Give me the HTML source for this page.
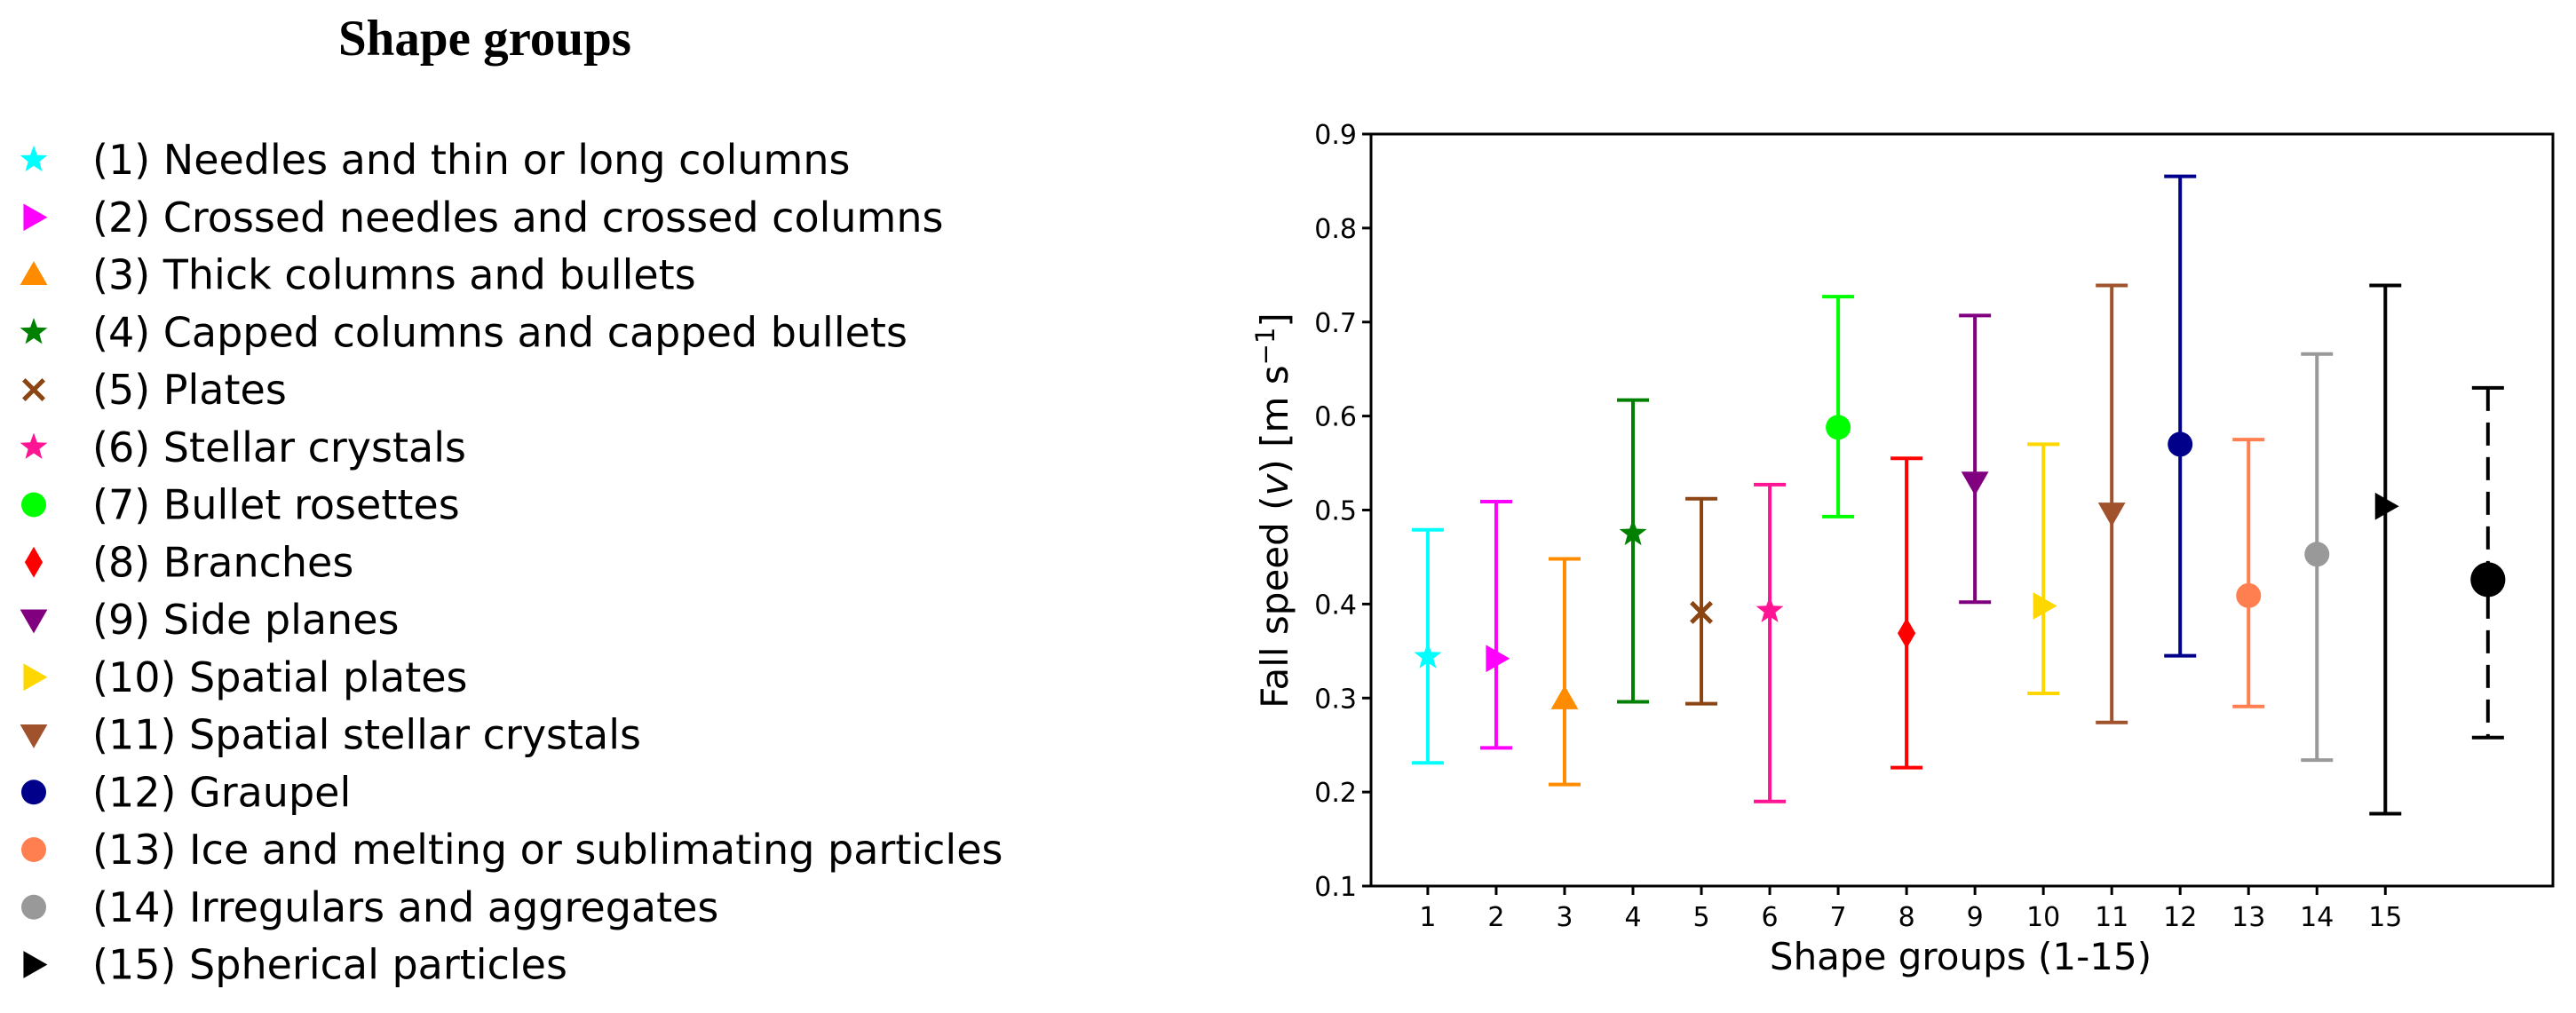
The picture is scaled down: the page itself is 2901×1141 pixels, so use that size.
<!DOCTYPE html>
<html><head><meta charset="utf-8"><style>
body{margin:0;background:#fff;}
svg text{font-family:"DejaVu Sans","Liberation Sans",sans-serif;}
</style></head><body>
<svg id="c" width="2901" height="1136" viewBox="0 0 2901 1136" xmlns="http://www.w3.org/2000/svg">
<text x="546" y="62" text-anchor="middle" style="font-family:'Liberation Serif',serif;font-weight:bold;font-size:57px">Shape groups</text>
<g id="legend"></g>
<g id="plot"></g>
</svg>
<script>
const categories = ["1","2","3","4","5","6","7","8","9","10","11","12","13","14","15","mean"];
const xPositions = [1,2,3,4,5,6,7,8,9,10,11,12,13,14,15,16.5];
const means = [0.344,0.342,0.299,0.475,0.391,0.393,0.588,0.369,0.530,0.398,0.497,0.570,0.409,0.453,0.504,0.426];
const upper = [0.479,0.509,0.448,0.617,0.512,0.527,0.727,0.555,0.707,0.570,0.739,0.855,0.575,0.666,0.739,0.630];
const lower = [0.231,0.247,0.208,0.296,0.294,0.190,0.493,0.226,0.402,0.305,0.274,0.345,0.291,0.234,0.177,0.258];
const yTicks = [0.1,0.2,0.3,0.4,0.5,0.6,0.7,0.8,0.9];
const xTicks = [1,2,3,4,5,6,7,8,9,10,11,12,13,14,15];
const legendLabels = ["(1) Needles and thin or long columns","(2) Crossed needles and crossed columns","(3) Thick columns and bullets","(4) Capped columns and capped bullets","(5) Plates","(6) Stellar crystals","(7) Bullet rosettes","(8) Branches","(9) Side planes","(10) Spatial plates","(11) Spatial stellar crystals","(12) Graupel","(13) Ice and melting or sublimating particles","(14) Irregulars and aggregates","(15) Spherical particles"];
const colors = ["#00ffff","#ff00ff","#ff8c00","#008000","#8b4513","#ff1493","#00ff00","#ff0000","#800080","#ffd700","#a0522d","#00008b","#ff7f50","#999999","#000000","#000000"];
const markers = ["star","tri-right","tri-up","star","x","star","circle","diamond","tri-down","tri-right","tri-down","circle","circle","circle","tri-right","bigcircle"];

const NS="http://www.w3.org/2000/svg";
const L=1544,R=2875,T=151,B=998,XMIN=0.17,XMAX=17.45,YMIN=0.1,YMAX=0.9;
const xs=v=>L+(v-XMIN)/(XMAX-XMIN)*(R-L);
const ys=v=>B-(v-YMIN)/(YMAX-YMIN)*(B-T);
function mk(tag,attrs,parent){const e=document.createElementNS(NS,tag);for(const k in attrs)e.setAttribute(k,attrs[k]);parent.appendChild(e);return e;}
function marker(type,cx,cy,s,col,parent){
  let e;
  if(type==="circle"||type==="bigcircle"){const r=type==="bigcircle"?s*0.7:s*0.5;e=mk('ellipse',{cx:cx,cy:cy,rx:r,ry:r,fill:col},parent);}
  else if(type==="star"){let p=[];for(let i=0;i<10;i++){const a=-Math.PI/2+i*Math.PI/5;const r=i%2?s*0.24:s*0.58;p.push((cx+r*Math.cos(a)).toFixed(1)+","+(cy+r*Math.sin(a)).toFixed(1));}e=mk('polygon',{points:p.join(' '),fill:col},parent);}
  else if(type==="tri-up"){const h=s*0.55;e=mk('polygon',{points:`${cx},${cy-h} ${cx+h},${cy+h*0.75} ${cx-h},${cy+h*0.75}`,fill:col},parent);}
  else if(type==="tri-down"){const h=s*0.55;e=mk('polygon',{points:`${cx},${cy+h} ${cx+h},${cy-h*0.75} ${cx-h},${cy-h*0.75}`,fill:col},parent);}
  else if(type==="tri-right"){const h=s*0.55;e=mk('polygon',{points:`${cx+h},${cy} ${cx-h*0.75},${cy-h} ${cx-h*0.75},${cy+h}`,fill:col},parent);}
  else if(type==="diamond"){e=mk('polygon',{points:`${cx},${cy-s*0.62} ${cx+s*0.36},${cy} ${cx},${cy+s*0.62} ${cx-s*0.36},${cy}`,fill:col},parent);}
  else if(type==="x"){const h=s*0.4;e=mk('path',{d:`M${cx-h},${cy-h}L${cx+h},${cy+h}M${cx-h},${cy+h}L${cx+h},${cy-h}`,stroke:col,'stroke-width':5,fill:'none'},parent);}
  return e;
}
// legend
const lg=document.getElementById('legend');
legendLabels.forEach((lab,i)=>{
  const y=180+i*64.75;
  const m=marker(markers[i],38,y,28,colors[i],lg);
  
  
  const t=mk('text',{x:104,y:y+16,'font-size':46},lg);t.textContent=lab;
  
  
});
// axes
const pg=document.getElementById('plot');
const frame=mk('rect',{x:L,y:T,width:R-L,height:B-T,fill:'none',stroke:'#000','stroke-width':3},pg);


yTicks.forEach(v=>{
  const y=ys(v);
  mk('line',{x1:L-10,x2:L,y1:y,y2:y,stroke:'#000','stroke-width':3},pg);
  const t=mk('text',{x:L-16,y:y+11,'font-size':30,'text-anchor':'end'},pg);t.textContent=v.toFixed(1);
  
  
});
xTicks.forEach(v=>{
  const x=xs(v);
  mk('line',{x1:x,x2:x,y1:B,y2:B+10,stroke:'#000','stroke-width':3},pg);
  const t=mk('text',{x:x,y:1043,'font-size':30,'text-anchor':'middle'},pg);t.textContent=String(v);
  
  
});
const xl=mk('text',{x:2208,y:1092,'font-size':42,'text-anchor':'middle'},pg);xl.textContent="Shape groups (1-15)";


const yl=mk('text',{x:0,y:0,'font-size':42,'text-anchor':'middle',transform:'translate(1450,575) rotate(-90)'},pg);
yl.innerHTML='Fall speed (<tspan font-style="italic">v</tspan>) [m s<tspan dy="-15" font-size="29">−1</tspan><tspan dy="15">]</tspan>';


// series
categories.forEach((c,i)=>{
  const g=mk('g',{},pg);
  
  
  const x=xs(xPositions[i]),col=colors[i];
  const dash=c==="mean"?{'stroke-dasharray':'26,13'}:{};
  mk('line',Object.assign({x1:x,x2:x,y1:ys(upper[i]),y2:ys(lower[i]),stroke:col,'stroke-width':4},dash),g);
  mk('line',{x1:x-18,x2:x+18,y1:ys(upper[i]),y2:ys(upper[i]),stroke:col,'stroke-width':4},g);
  mk('line',{x1:x-18,x2:x+18,y1:ys(lower[i]),y2:ys(lower[i]),stroke:col,'stroke-width':4},g);
  const m=marker(markers[i],x,ys(means[i]),28,col,g);
  
  
});
</script>
</body></html>
